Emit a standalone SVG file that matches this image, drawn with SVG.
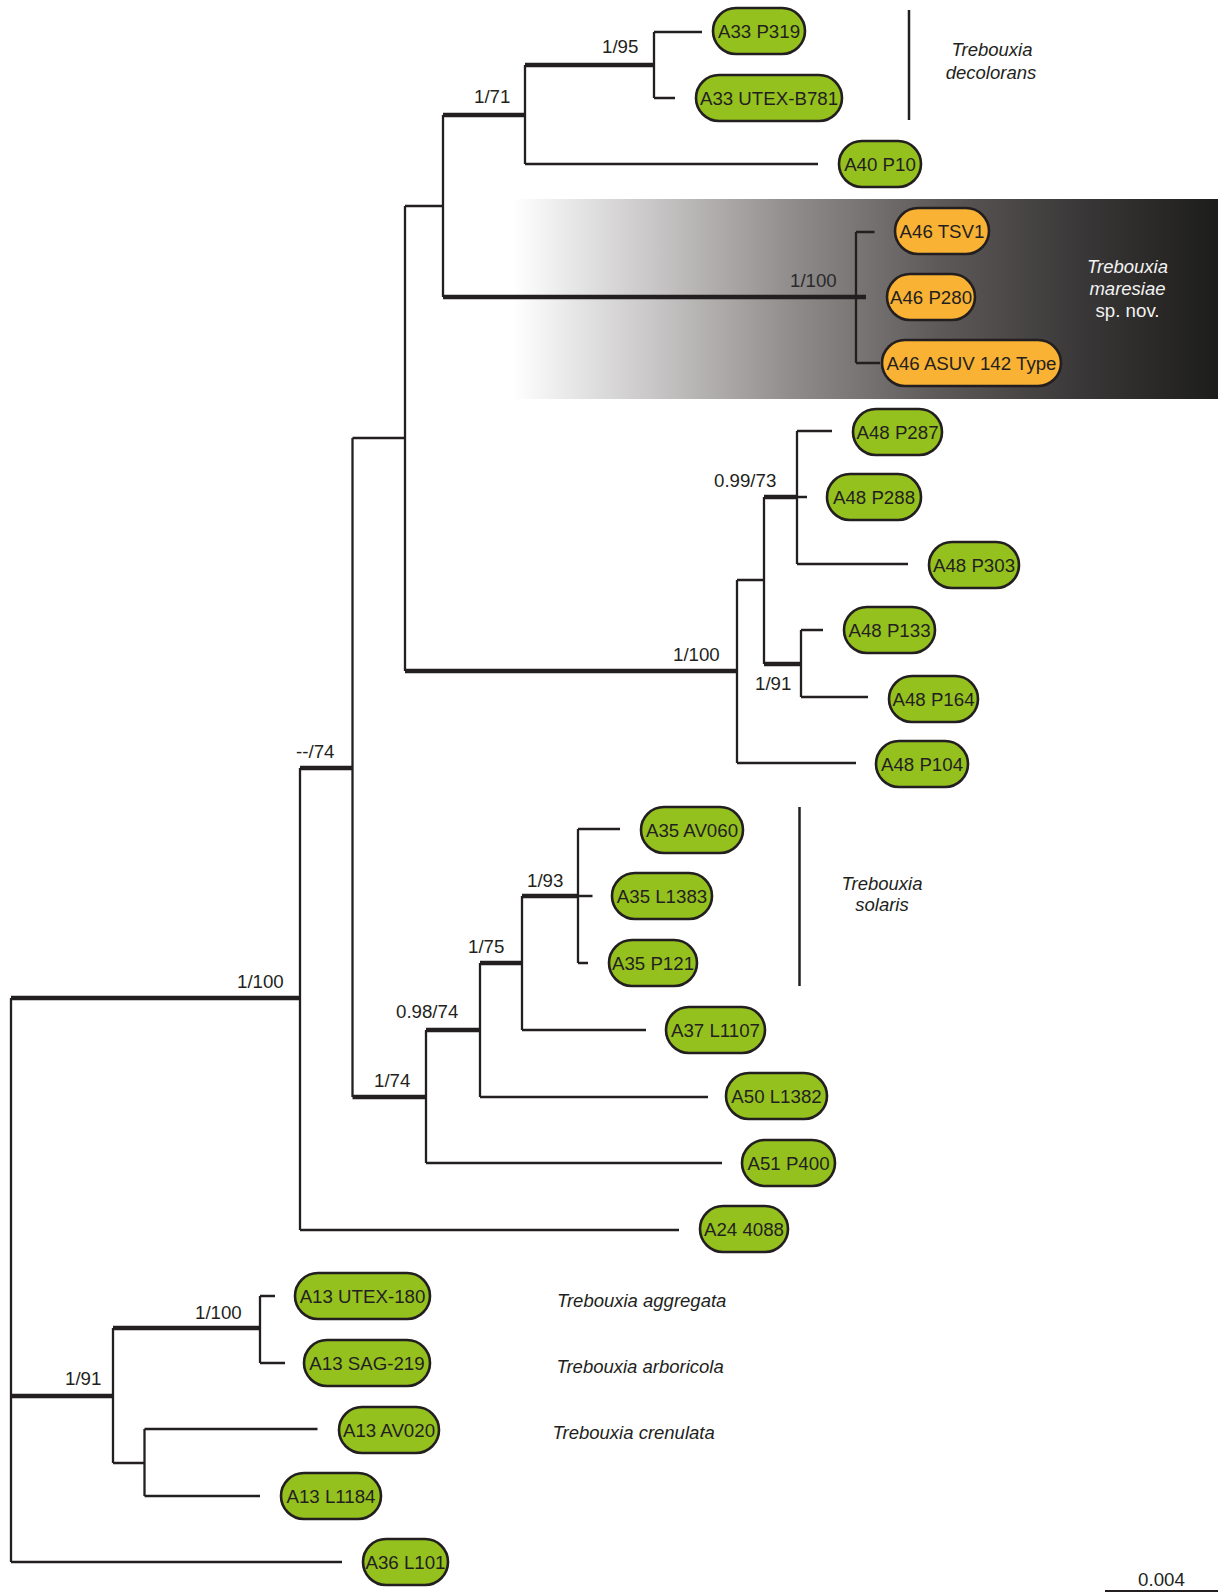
<svg xmlns="http://www.w3.org/2000/svg" width="1218" height="1593" viewBox="0 0 1218 1593">
<style>
.c path{fill:none;stroke:#231f20;stroke-linejoin:miter;stroke-linecap:butt}
.thin{stroke-width:2.3}
.thick{stroke-width:4.6}
.pg{fill:#95c11f;stroke:#231f20;stroke-width:2.6}
.po{fill:#f9b233;stroke:#231f20;stroke-width:2.6}
.nt{font-family:"Liberation Sans",Arial,sans-serif;font-size:18.7px;fill:#231f20;text-anchor:middle}
.el{font-family:"Liberation Sans",Arial,sans-serif;font-size:18.7px;fill:#231f20}
.sp{font-family:"Liberation Sans",Arial,sans-serif;font-size:18.5px;fill:#231f20;font-style:italic}
.bar{stroke:#231f20;stroke-width:2.5;fill:none}
</style>
<defs>
<linearGradient id="grad" x1="0" y1="0" x2="1" y2="0">
<stop offset="0" stop-color="#ffffff"/>
<stop offset="0.2" stop-color="#c8c6c6"/>
<stop offset="0.4" stop-color="#8f8b8a"/>
<stop offset="0.6" stop-color="#5e5a59"/>
<stop offset="0.8" stop-color="#3a3838"/>
<stop offset="1" stop-color="#1d1d1b"/>
</linearGradient>
</defs>
<rect id="maresiae-band" x="513" y="199" width="705" height="200" fill="url(#grad)"/>

<g id="connectors" class="c">
<path class="thin" d="M11 998V1562M11 1562H342"/>
<path class="thick" d="M11 998H300M11 1396H113"/>
<path class="thin" d="M300 768V1230M300 1230H679"/>
<path class="thick" d="M300 768H352.5"/>
<path class="thin" d="M352.5 438V1097M352.5 438H405"/>
<path class="thick" d="M352.5 1097H426"/>
<path class="thin" d="M405 206V671M405 206H443"/>
<path class="thick" d="M405 671H737"/>
<path class="thin" d="M443 115V297"/>
<path class="thick" d="M443 115H525M443 297H866"/>
<path class="thin" d="M525 65V164M525 164H818"/>
<path class="thick" d="M525 65H654"/>
<path class="thin" d="M654 32V98M654 32H702M654 98H675"/>
<path class="thin" d="M856 232V363M856 232H874.5M856 363H880"/>
<path class="thin" d="M737 580V763M737 580H764M737 763H856"/>
<path class="thin" d="M764 497V664"/>
<path class="thick" d="M764 497H797M764 664H801"/>
<path class="thin" d="M797 431V564M797 431H832M797 497H807M797 564H908"/>
<path class="thin" d="M801 630V697M801 630H823M801 697H868"/>
<path class="thin" d="M426 1030V1163M426 1163H722"/>
<path class="thick" d="M426 1030H480"/>
<path class="thin" d="M480 963V1097M480 1097H708"/>
<path class="thick" d="M480 963H522"/>
<path class="thin" d="M522 896V1030M522 1030H646"/>
<path class="thick" d="M522 896H578"/>
<path class="thin" d="M578 829V963M578 829H620M578 896H592.5M578 963H588"/>
<path class="thin" d="M113 1328V1463M113 1463H144.5"/>
<path class="thick" d="M113 1328H260"/>
<path class="thin" d="M260 1296V1363M260 1296H275M260 1363H285"/>
<path class="thin" d="M144.5 1429V1496M144.5 1429H317.5M144.5 1496H260"/>
</g>

<g id="support-labels">
<text class="el" x="602" y="53">1/95</text>
<text class="el" x="474" y="103">1/71</text>
<text class="el" x="790" y="287" style="fill:#2a2a2a">1/100</text>
<text class="el" x="714" y="487">0.99/73</text>
<text class="el" x="673" y="661">1/100</text>
<text class="el" x="755" y="690">1/91</text>
<text class="el" x="296" y="758">--/74</text>
<text class="el" x="527" y="887">1/93</text>
<text class="el" x="468" y="953">1/75</text>
<text class="el" x="396" y="1018">0.98/74</text>
<text class="el" x="374" y="1087">1/74</text>
<text class="el" x="237" y="988">1/100</text>
<text class="el" x="195" y="1319">1/100</text>
<text class="el" x="65" y="1385">1/91</text>
</g>

<g id="n-A33-P319"><rect class="pg" x="713" y="8" width="92" height="46" rx="23"/><text class="nt" x="759" y="38">A33 P319</text></g>
<g id="n-A33-UTEX-B781"><rect class="pg" x="696" y="75" width="146" height="46" rx="23"/><text class="nt" x="769" y="105">A33 UTEX-B781</text></g>
<g id="n-A40-P10"><rect class="pg" x="839" y="141" width="82" height="46" rx="23"/><text class="nt" x="880" y="171">A40 P10</text></g>
<g id="n-A46-TSV1"><rect class="po" x="895" y="208" width="94" height="46" rx="23"/><text class="nt" x="942" y="238">A46 TSV1</text></g>
<g id="n-A46-P280"><rect class="po" x="887" y="274" width="88" height="46" rx="23"/><text class="nt" x="931" y="304">A46 P280</text></g>
<g id="n-A46-ASUV142"><rect class="po" x="882" y="340" width="179" height="46" rx="23"/><text class="nt" x="971.5" y="370">A46 ASUV 142 Type</text></g>
<g id="n-A48-P287"><rect class="pg" x="853" y="409" width="89" height="46" rx="23"/><text class="nt" x="897.5" y="439">A48 P287</text></g>
<g id="n-A48-P288"><rect class="pg" x="827" y="474" width="94" height="46" rx="23"/><text class="nt" x="874" y="504">A48 P288</text></g>
<g id="n-A48-P303"><rect class="pg" x="929" y="542" width="90" height="46" rx="23"/><text class="nt" x="974" y="572">A48 P303</text></g>
<g id="n-A48-P133"><rect class="pg" x="844" y="607" width="91" height="46" rx="23"/><text class="nt" x="889.5" y="637">A48 P133</text></g>
<g id="n-A48-P164"><rect class="pg" x="889" y="676" width="89" height="46" rx="23"/><text class="nt" x="933.5" y="706">A48 P164</text></g>
<g id="n-A48-P104"><rect class="pg" x="876" y="741" width="92" height="46" rx="23"/><text class="nt" x="922" y="771">A48 P104</text></g>
<g id="n-A35-AV060"><rect class="pg" x="641" y="807" width="102" height="46" rx="23"/><text class="nt" x="692" y="837">A35 AV060</text></g>
<g id="n-A35-L1383"><rect class="pg" x="612" y="873" width="100" height="46" rx="23"/><text class="nt" x="662" y="903">A35 L1383</text></g>
<g id="n-A35-P121"><rect class="pg" x="609" y="940" width="88" height="46" rx="23"/><text class="nt" x="653" y="970">A35 P121</text></g>
<g id="n-A37-L1107"><rect class="pg" x="666" y="1007" width="99" height="46" rx="23"/><text class="nt" x="715.5" y="1037">A37 L1107</text></g>
<g id="n-A50-L1382"><rect class="pg" x="726" y="1073" width="101" height="46" rx="23"/><text class="nt" x="776.5" y="1103">A50 L1382</text></g>
<g id="n-A51-P400"><rect class="pg" x="742" y="1140" width="93" height="46" rx="23"/><text class="nt" x="788.5" y="1170">A51 P400</text></g>
<g id="n-A24-4088"><rect class="pg" x="700" y="1206" width="88" height="46" rx="23"/><text class="nt" x="744" y="1236">A24 4088</text></g>
<g id="n-A13-UTEX-180"><rect class="pg" x="295" y="1273" width="135" height="46" rx="23"/><text class="nt" x="362.5" y="1303">A13 UTEX-180</text></g>
<g id="n-A13-SAG-219"><rect class="pg" x="304" y="1340" width="126" height="46" rx="23"/><text class="nt" x="367" y="1370">A13 SAG-219</text></g>
<g id="n-A13-AV020"><rect class="pg" x="339" y="1407" width="100" height="46" rx="23"/><text class="nt" x="389" y="1437">A13 AV020</text></g>
<g id="n-A13-L1184"><rect class="pg" x="281" y="1473" width="100" height="46" rx="23"/><text class="nt" x="331" y="1503">A13 L1184</text></g>
<g id="n-A36-L101"><rect class="pg" x="363" y="1539" width="85" height="46" rx="23"/><text class="nt" x="405.5" y="1569">A36 L101</text></g>

<g id="clade-labels">
<line class="bar" x1="909" y1="10" x2="909" y2="120"/>
<text class="sp" x="992" y="56" text-anchor="middle">Trebouxia</text>
<text class="sp" x="991" y="79" text-anchor="middle">decolorans</text>
<text class="sp" x="1127.5" y="273" text-anchor="middle" style="fill:#f2f2f2">Trebouxia</text>
<text class="sp" x="1127.5" y="295" text-anchor="middle" style="fill:#f2f2f2">maresiae</text>
<text class="el" x="1127.5" y="317" text-anchor="middle" style="fill:#f2f2f2">sp. nov.</text>
<line class="bar" x1="799.5" y1="807" x2="799.5" y2="986"/>
<text class="sp" x="882" y="890" text-anchor="middle">Trebouxia</text>
<text class="sp" x="882" y="911" text-anchor="middle">solaris</text>
<text class="sp" x="557" y="1307">Trebouxia aggregata</text>
<text class="sp" x="556.5" y="1373">Trebouxia arboricola</text>
<text class="sp" x="552.6" y="1439">Trebouxia crenulata</text>
</g>

<g id="scale-bar">
<line x1="1105" y1="1591" x2="1218" y2="1591" stroke="#231f20" stroke-width="2"/>
<text class="el" x="1161.5" y="1586" text-anchor="middle">0.004</text>
</g>
</svg>
